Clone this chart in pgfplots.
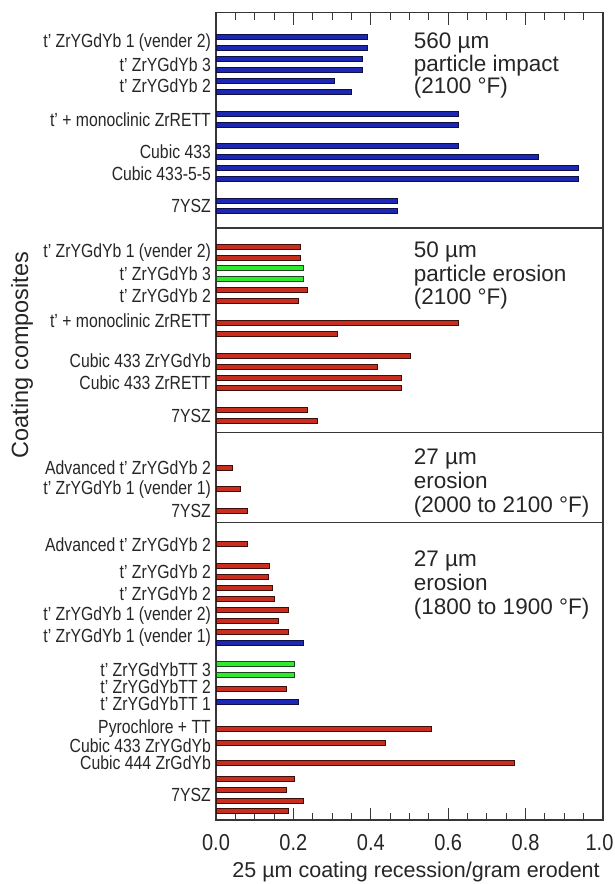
\documentclass[border=0pt]{standalone}
\usepackage{fontspec}
\setmainfont{Liberation Sans}
\usepackage{pgfplots}
\pgfplotsset{compat=1.18}
\usepackage{pgfplotstable}
\definecolor{bfill}{RGB}{28,40,180}
\definecolor{bdraw}{RGB}{15,15,70}
\definecolor{rfill}{RGB}{200,45,30}
\definecolor{rdraw}{RGB}{60,15,10}
\definecolor{gfill}{RGB}{45,235,45}
\definecolor{gdraw}{RGB}{30,70,30}
\definecolor{axc}{RGB}{55,55,55}

\pgfplotstableread{
v y
0.391 37.0
0.391 48.3
0.379 59.3
0.379 69.7
0.305 80.7
0.350 91.7
0.626 114.0
0.626 124.7
0.626 146.0
0.834 157.0
0.936 168.0
0.936 179.0
0.470 201.0
0.470 211.3
0.225 643.0
0.212 702.3
}\bluedata

\pgfplotstableread{
v y
0.218 246.7
0.218 257.7
0.237 290.3
0.212 301.0
0.626 323.0
0.315 333.7
0.503 355.7
0.418 366.7
0.478 377.7
0.478 388.3
0.237 410.0
0.263 421.0
0.043 467.7
0.063 489.3
0.080 511.0
0.080 544.3
0.139 566.0
0.136 576.7
0.145 588.0
0.150 599.0
0.186 610.0
0.161 621.0
0.186 632.0
0.181 689.0
0.556 729.3
0.437 743.3
0.770 762.7
0.203 778.7
0.181 789.7
0.225 800.7
0.186 811.3
}\reddata

\pgfplotstableread{
v y
0.225 268.3
0.225 279.3
0.203 664.3
0.203 675.3
}\greendata

\begin{document}
\begin{tikzpicture}
\begin{axis}[
  at={(216pt,64pt)}, anchor=south west,
  scale only axis, width=387pt, height=807.3pt,
  xmin=0, xmax=1, ymin=12.7, ymax=820, y dir=reverse,
  xtick={0,0.2,0.4,0.6,0.8,1.0},
  xticklabels={0.0,0.2,0.4,0.6,0.8,\hspace*{-8pt}1.0},
  minor x tick num=3,
  xtick pos=both,
  tick align=inside,
  major tick length=12pt, minor tick length=7pt,
  every tick/.style={axc, line width=1pt},
  axis line style={axc, line width=1.4pt},
  /pgf/number format/assume math mode=true,
  ytick={42.7,64.5,86.2,119.3,151.5,173.5,206,
         252.2,273.8,295.7,321,361.2,383,415.5,
         467.7,489.3,511,
         544.3,571.5,593.5,615.5,637.5,669.5,687,704,729,745.5,762.7,795},
  yticklabels={t’ ZrYGdYb 1 (vender 2),t’ ZrYGdYb 3,t’ ZrYGdYb 2,t’ + monoclinic ZrRETT,Cubic 433,Cubic 433-5-5,7YSZ,
    t’ ZrYGdYb 1 (vender 2),t’ ZrYGdYb 3,t’ ZrYGdYb 2,t’ + monoclinic ZrRETT,Cubic 433 ZrYGdYb,Cubic 433 ZrRETT,7YSZ,
    Advanced t’ ZrYGdYb 2,t’ ZrYGdYb 1 (vender 1),7YSZ,
    Advanced t’ ZrYGdYb 2,t’ ZrYGdYb 2,t’ ZrYGdYb 2,t’ ZrYGdYb 1 (vender 2),t’ ZrYGdYb 1 (vender 1),t’ ZrYGdYbTT 3,t’ ZrYGdYbTT 2,t’ ZrYGdYbTT 1,Pyrochlore + TT,Cubic 433 ZrYGdYb,Cubic 444 ZrGdYb,7YSZ},
  y tick style={draw=none},
  yticklabel style={font=\fontsize{19}{19}\selectfont, xscale=0.83, inner sep=0pt, anchor=east, xshift=-6pt, text=black!85},
  xticklabel style={font=\fontsize{23}{23}\selectfont, xscale=0.87, anchor=base, yshift=-30pt, inner sep=0pt, text=black!85},
  xlabel={25 µm coating recession/gram erodent},
  every axis x label/.style={at={(axis description cs:0.517,-0.0718)}, anchor=base, inner sep=0pt, font=\fontsize{21.5}{21.5}\selectfont, text=black!85},
  ylabel={Coating composites},
  every axis y label/.style={at={(axis description cs:-0.501,0.576)}, rotate=90, anchor=center, inner sep=0pt, font=\fontsize{23.5}{23.5}\selectfont, text=black!85},
  clip=false,
]
\addplot[xbar, bar shift=0pt, bar width=5.2pt, fill=bfill, draw=bdraw, line width=0.9pt] table[x=v, y=y] {\bluedata};
\addplot[xbar, bar shift=0pt, bar width=5.2pt, fill=rfill, draw=rdraw, line width=0.9pt] table[x=v, y=y] {\reddata};
\addplot[xbar, bar shift=0pt, bar width=5.2pt, fill=gfill, draw=gdraw, line width=0.9pt] table[x=v, y=y] {\greendata};

\draw[axc, line width=1.4pt] (axis cs:0,228) -- (axis cs:1,228);
\draw[axc, line width=1.4pt] (axis cs:0,432.5) -- (axis cs:1,432.5);
\draw[axc, line width=1.4pt] (axis cs:0,522.3) -- (axis cs:1,522.3);

\begin{scope}[every node/.style={anchor=base west, inner sep=0pt, font=\fontsize{22.5}{22.5}\selectfont, text=black!85}]
\node at (axis cs:0.511,48.3) {560 µm};
\node at (axis cs:0.511,71.3) {particle impact};
\node at (axis cs:0.511,93.3) {(2100 °F)};
\node at (axis cs:0.511,257.5) {50 µm};
\node at (axis cs:0.511,281) {particle erosion};
\node at (axis cs:0.511,304.5) {(2100 °F)};
\node at (axis cs:0.511,464) {27 µm};
\node at (axis cs:0.511,488.5) {erosion};
\node at (axis cs:0.511,512) {(2000 to 2100 °F)};
\node at (axis cs:0.511,566.5) {27 µm};
\node at (axis cs:0.511,590) {erosion};
\node at (axis cs:0.511,614) {(1800 to 1900 °F)};
\end{scope}
\end{axis}
\pgfresetboundingbox
\path[use as bounding box] (0,0) rectangle (614pt,884pt);
\end{tikzpicture}
\end{document}
